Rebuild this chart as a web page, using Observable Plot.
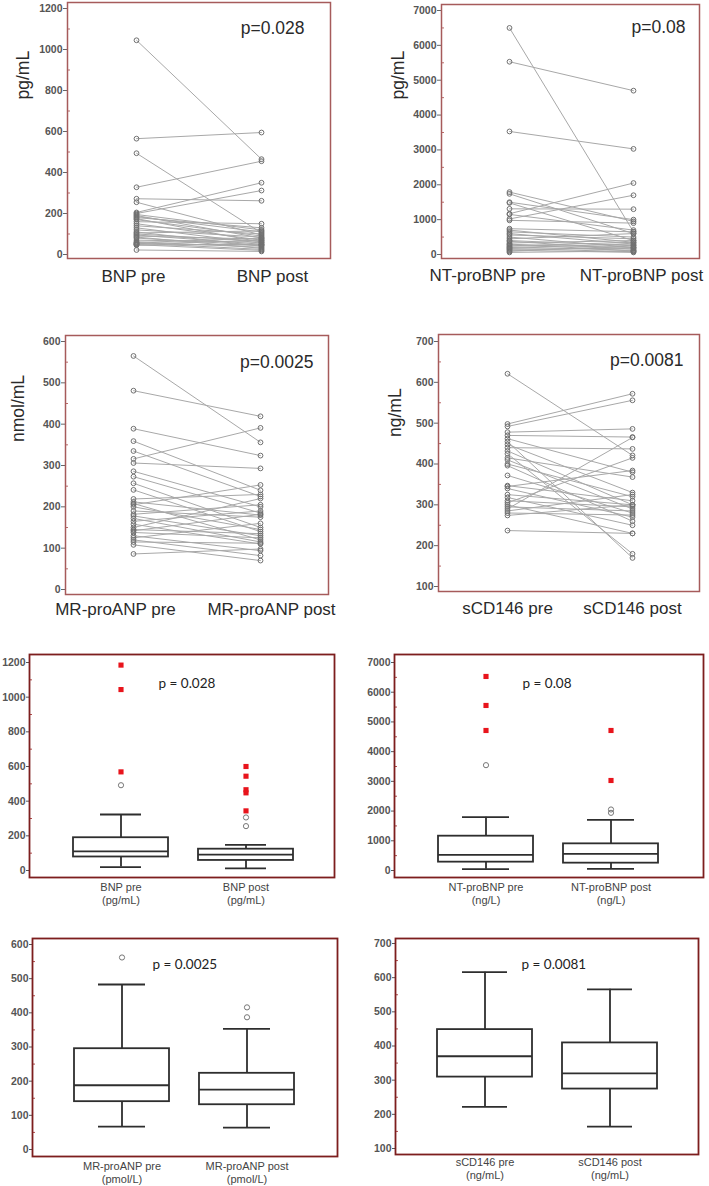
<!DOCTYPE html>
<html><head><meta charset="utf-8">
<script src="https://cdn.jsdelivr.net/npm/d3@7"></script>
<script src="https://cdn.jsdelivr.net/npm/@observablehq/plot@0.6"></script>
<style>
body{margin:0;background:#fff;}
#root{position:relative;width:709px;height:1186px;overflow:hidden;}
.panel{position:absolute;}
.panel svg{overflow:visible;}
</style></head><body><div id="root"></div>
<script>
// ---------- Paired data (per subject, pre / post) ----------
const bnpCats = ["BNP pre", "BNP post"];
const bnpPre  = [1045, 565, 494, 328, 272, 255, 205, 200, 195, 190, 185, 180, 175, 170, 160, 150, 140, 130, 120, 110, 105, 100, 95, 90, 85, 80, 70, 62, 58, 55, 52, 50, 48, 45, 22];
const bnpPost = [465, 595, 105, 455, 262, 95, 350, 312, 120, 80, 110, 130, 60, 90, 150, 70, 100, 55, 85, 40, 115, 65, 50, 75, 30, 45, 60, 35, 80, 25, 45, 70, 20, 50, 15];

const ntCats = ["NT-proBNP pre", "NT-proBNP post"];
const ntPre  = [6500, 5530, 3530, 1790, 1740, 1500, 1480, 1310, 1170, 1150, 1020, 980, 740, 700, 650, 600, 560, 500, 450, 400, 380, 330, 300, 280, 250, 220, 200, 170, 150, 120, 90, 60];
const ntPost = [650, 4700, 3030, 950, 600, 1000, 400, 1300, 2050, 700, 1700, 900, 650, 350, 500, 300, 450, 200, 600, 250, 150, 400, 100, 200, 350, 120, 300, 80, 180, 60, 250, 100];

const mrCats = ["MR-proANP pre", "MR-proANP post"];
const mrPre  = [565, 481, 389, 359, 335, 316, 306, 286, 273, 257, 241, 219, 212, 208, 205, 200, 190, 182, 178, 172, 165, 158, 150, 145, 142, 138, 130, 125, 120, 115, 108, 86];
const mrPost = [356, 419, 324, 240, 225, 391, 293, 200, 185, 150, 140, 230, 180, 120, 253, 145, 175, 205, 130, 115, 190, 110, 220, 135, 182, 125, 94, 160, 82, 112, 70, 98];

const cdCats = ["sCD146 pre", "sCD146 post"];
const cdPre  = [621, 498, 492, 478, 470, 462, 455, 448, 440, 432, 425, 415, 410, 400, 396, 372, 347, 345, 340, 325, 318, 310, 305, 300, 295, 290, 285, 280, 274, 237];
const cdPost = [421, 572, 556, 486, 466, 380, 170, 330, 437, 300, 180, 368, 290, 320, 260, 280, 310, 384, 270, 300, 250, 295, 415, 230, 285, 465, 325, 275, 300, 230];

// ---------- Box plot summaries (pre, post) ----------
const bnpBoxCats = ["BNP pre\n(pg/mL)", "BNP post\n(pg/mL)"];
const bnpLow = [20, 12], bnpQ1 = [78, 58], bnpMed = [110, 92], bnpQ3 = [189, 123], bnpHigh = [323, 148];
const bnpCircPre = [492], bnpCircPost = [256, 306];
const bnpRedPre = [569, 1044, 1185], bnpRedPost = [344, 448, 466, 544, 600];

const ntBoxCats = ["NT-proBNP pre\n(ng/L)", "NT-proBNP post\n(ng/L)"];
const ntLow = [45, 56], ntQ1 = [281, 247], ntMed = [527, 561], ntQ3 = [1155, 897], ntHigh = [1795, 1705];
const ntCircPre = [3545], ntCircPost = [1941, 2053];
const ntRedPre = [4712, 5554, 6530], ntRedPost = [3029, 4712];

const mrBoxCats = ["MR-proANP pre\n(pmol/L)", "MR-proANP post\n(pmol/L)"];
const mrLow = [67, 64], mrQ1 = [140, 131], mrMed = [188, 175], mrQ3 = [295, 223], mrHigh = [483, 353];
const mrCircPre = [562], mrCircPost = [387, 416];
const mrRedPre = [], mrRedPost = [];

const cdBoxCats = ["sCD146 pre\n(ng/mL)", "sCD146 post\n(ng/mL)"];
const cdLow = [222, 164], cdQ1 = [309, 274], cdMed = [370, 320], cdQ3 = [448, 409], cdHigh = [616, 566];
const cdCircPre = [], cdCircPost = [];
const cdRedPre = [], cdRedPost = [];

// ---------- Tick values ----------
const ticks1200 = [0, 200, 400, 600, 800, 1000, 1200];
const minor1200 = [100, 300, 500, 700, 900, 1100];
const ticks7000 = [0, 1000, 2000, 3000, 4000, 5000, 6000, 7000];
const minor7000 = [500, 1500, 2500, 3500, 4500, 5500, 6500];
const ticks600 = [0, 100, 200, 300, 400, 500, 600];
const minor600 = [50, 150, 250, 350, 450, 550];
const ticks700 = [100, 200, 300, 400, 500, 600, 700];
const minor700 = [150, 250, 350, 450, 550, 650];

const FONT = "'Liberation Sans', Arial, sans-serif";
const fmt = d => String(d);
const root = document.getElementById("root");
function place(node, left, top) {
  const d = document.createElement("div");
  d.className = "panel";
  d.style.left = left + "px";
  d.style.top = top + "px";
  d.appendChild(node);
  root.appendChild(d);
}

function paired(o) {
  const rows = [];
  o.pre.forEach((v, i) => {
    rows.push({id: i, cat: o.cats[0], v});
    rows.push({id: i, cat: o.cats[1], v: o.post[i]});
  });
  return Plot.plot({
    width: o.width, height: o.height,
    marginLeft: o.ml, marginRight: o.mr, marginTop: o.mt, marginBottom: o.mb,
    style: {fontFamily: FONT, background: "transparent", overflow: "visible"},
    x: {type: "point", domain: o.cats, range: o.xRange, padding: 0, label: null},
    y: {domain: o.yDomain, range: o.yRange, label: null},
    marks: [
      Plot.axisY({ticks: o.minor, tickSize: 3, text: null, stroke: "#b86a6a", dx: 3, label: null}),
      Plot.axisY({ticks: o.ticks, tickFormat: fmt, tickSize: 4, tickPadding: 1, fontSize: 10.5, fontWeight: "bold", fill: "#555", stroke: "#666", label: null}),
      Plot.axisX({ticks: [o.cats[0]], tickSize: 0, tickPadding: o.catPad, fontSize: 17, fontWeight: "normal", fill: "#2a2a2a", label: null, dx: o.catDx[0]}),
      Plot.axisX({ticks: [o.cats[1]], tickSize: 0, tickPadding: o.catPad, fontSize: 17, fontWeight: "normal", fill: "#2a2a2a", label: null, dx: o.catDx[1]}),
      Plot.lineY(rows, {x: "cat", y: "v", z: "id", stroke: "#a8a8a8", strokeWidth: 1}),
      Plot.dot(rows, {x: "cat", y: "v", r: 2.4, stroke: "#707070", strokeWidth: 1}),
      Plot.frame({stroke: "#a65b5b", strokeWidth: 1.5}),
      Plot.text([o.yLabel], {frameAnchor: "left", rotate: -90, dx: o.yLabDx, dy: o.yLabDy, fontSize: 17.5, fill: "#2a2a2a"}),
      Plot.text([o.pText], {frameAnchor: "top-right", textAnchor: "end", dx: o.pDx, dy: o.pDy, fontSize: 17.5, fill: "#2a2a2a"})
    ]
  });
}

function boxPanel(o) {
  const stats = o.cats.map((c, i) => ({cat: c, low: o.low[i], q1: o.q1[i], med: o.med[i], q3: o.q3[i], high: o.high[i]}));
  const circles = [...o.circPre.map(v => ({cat: o.cats[0], v})), ...o.circPost.map(v => ({cat: o.cats[1], v}))];
  const reds = [...o.redPre.map(v => ({cat: o.cats[0], v})), ...o.redPost.map(v => ({cat: o.cats[1], v}))];
  const line = {stroke: "#2e2e2e", strokeWidth: 1.8};
  return Plot.plot({
    width: o.width, height: o.height,
    marginLeft: o.ml, marginRight: o.mr, marginTop: o.mt, marginBottom: o.mb,
    style: {fontFamily: FONT, background: "transparent", overflow: "visible"},
    x: {type: "band", domain: o.cats, range: o.xRange, paddingInner: 0.24, paddingOuter: 0, label: null},
    y: {domain: o.yDomain, range: o.yRange, label: null},
    marks: [
      Plot.axisY({ticks: o.minor, tickSize: 3, text: null, stroke: "#b04a4a", dx: 3, label: null}),
      Plot.axisY({ticks: o.ticks, tickFormat: fmt, tickSize: 3, tickPadding: 1, fontSize: 10.5, fontWeight: "bold", fill: "#555", stroke: "#555", label: null}),
      Plot.axisX({tickSize: 0, tickPadding: o.catPad, fontSize: 11, lineHeight: 1.15, fill: "#444", label: null}),
      Plot.ruleX(stats, {x: "cat", y1: "low", y2: "q1", ...line}),
      Plot.ruleX(stats, {x: "cat", y1: "q3", y2: "high", ...line}),
      Plot.tickY(stats, {x: "cat", y: "low", insetLeft: o.capInset, insetRight: o.capInset, ...line}),
      Plot.tickY(stats, {x: "cat", y: "high", insetLeft: o.capInset, insetRight: o.capInset, ...line}),
      Plot.barY(stats, {x: "cat", y1: "q1", y2: "q3", fill: "white", ...line}),
      Plot.tickY(stats, {x: "cat", y: "med", ...line}),
      Plot.dot(circles, {x: "cat", y: "v", r: 2.6, stroke: "#777", strokeWidth: 1}),
      Plot.dot(reds, {x: "cat", y: "v", symbol: "square", r: 2.9, fill: "#e8141c"}),
      Plot.frame({stroke: "#7d1e1e", strokeWidth: 1.8}),
      Plot.text([o.pText], {frameAnchor: "top-left", textAnchor: "start", dx: o.pDx, dy: o.pDy, fontSize: 13.5, fontFamily: "Lato, 'Open Sans', sans-serif", fill: "#222"})
    ]
  });
}

// Row 1
place(paired({width: 340, height: 290, ml: 67, mr: 10, mt: 2, mb: 32,
  cats: bnpCats, pre: bnpPre, post: bnpPost, xRange: [136, 261],
  yDomain: [0, 1200], yRange: [254, 8], ticks: ticks1200, minor: minor1200,
  yLabel: "pg/mL", yLabDx: -44, yLabDy: -31, pText: "p=0.028", pDx: -26, pDy: 19,
  catPad: 11, catDx: [-3, 11]}), 0, 0);

place(paired({width: 354, height: 290, ml: 86, mr: 10, mt: 4, mb: 32,
  cats: ntCats, pre: ntPre, post: ntPost, xRange: [154, 278],
  yDomain: [0, 7000], yRange: [254, 10], ticks: ticks7000, minor: minor7000,
  yLabel: "pg/mL", yLabDx: -43, yLabDy: -32, pText: "p=0.08", pDx: -14, pDy: 16,
  catPad: 10, catDx: [-22, 8]}), 355, 0);

// Row 2
place(paired({width: 340, height: 340, ml: 65, mr: 12, mt: 45, mb: 36,
  cats: mrCats, pre: mrPre, post: mrPost, xRange: [133, 260],
  yDomain: [0, 600], yRange: [299, 51], ticks: ticks600, minor: minor600,
  yLabel: "nmol/mL", yLabDx: -47, yLabDy: -23, pText: "p=0.0025", pDx: -15, pDy: 20,
  catPad: 8, catDx: [-18, 11]}), 0, 290);

place(paired({width: 354, height: 340, ml: 83, mr: 10, mt: 44, mb: 39,
  cats: cdCats, pre: cdPre, post: cdPost, xRange: [152, 277],
  yDomain: [100, 700], yRange: [296, 51], ticks: ticks700, minor: minor700,
  yLabel: "ng/mL", yLabDx: -43, yLabDy: -26, pText: "p=0.0081", pDx: -16, pDy: 19,
  catPad: 10, catDx: [0, 0]}), 355, 290);

// Row 3
place(boxPanel({width: 340, height: 280, ml: 29, mr: 6, mt: 24, mb: 33,
  cats: bnpBoxCats, xRange: [72.5, 292.5], yDomain: [0, 1200], yRange: [240, 32],
  ticks: ticks1200, minor: minor1200,
  low: bnpLow, q1: bnpQ1, med: bnpMed, q3: bnpQ3, high: bnpHigh,
  circPre: bnpCircPre, circPost: bnpCircPost, redPre: bnpRedPre, redPost: bnpRedPost,
  capInset: 27, pText: "p = 0.028", pDx: 129, pDy: 24, catPad: 5}), 0, 630);

place(boxPanel({width: 354, height: 280, ml: 39, mr: 6, mt: 24, mb: 33,
  cats: ntBoxCats, xRange: [82.5, 302.5], yDomain: [0, 7000], yRange: [240, 32],
  ticks: ticks7000, minor: minor7000,
  low: ntLow, q1: ntQ1, med: ntMed, q3: ntQ3, high: ntHigh,
  circPre: ntCircPre, circPost: ntCircPost, redPre: ntRedPre, redPost: ntRedPost,
  capInset: 24, pText: "p = 0.08", pDx: 128, pDy: 24, catPad: 5}), 355, 630);

// Row 4
place(boxPanel({width: 340, height: 276, ml: 32, mr: 3, mt: 28, mb: 30,
  cats: mrBoxCats, xRange: [73.5, 293.5], yDomain: [0, 600], yRange: [239, 34],
  ticks: ticks600, minor: minor600,
  low: mrLow, q1: mrQ1, med: mrMed, q3: mrQ3, high: mrHigh,
  circPre: mrCircPre, circPost: mrCircPost, redPre: mrRedPre, redPost: mrRedPost,
  capInset: 24, pText: "p = 0.0025", pDx: 120, pDy: 21, catPad: 5}), 0, 910);

place(boxPanel({width: 354, height: 276, ml: 40, mr: 11, mt: 28, mb: 32,
  cats: cdBoxCats, xRange: [81.5, 302.5], yDomain: [100, 700], yRange: [238, 33],
  ticks: ticks700, minor: minor700,
  low: cdLow, q1: cdQ1, med: cdMed, q3: cdQ3, high: cdHigh,
  circPre: cdCircPre, circPost: cdCircPost, redPre: cdRedPre, redPost: cdRedPost,
  capInset: 25, pText: "p = 0.0081", pDx: 126, pDy: 21, catPad: 3}), 355, 910);
</script>
</body></html>
